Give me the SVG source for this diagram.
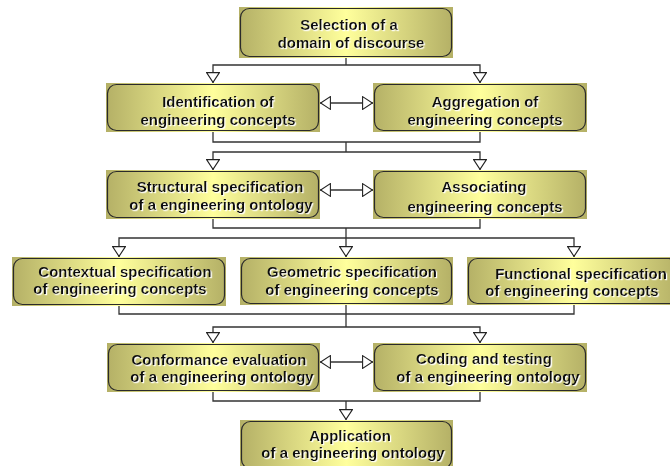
<svg xmlns="http://www.w3.org/2000/svg" width="670" height="466" viewBox="0 0 670 466">
  <defs>
    <linearGradient id="olive" x1="0" y1="0" x2="1" y2="0">
      <stop offset="0" stop-color="#b4b066"/>
      <stop offset="0.5" stop-color="#ffff9c"/>
      <stop offset="1" stop-color="#b4b066"/>
    </linearGradient>
    <filter id="halo" x="-5%" y="-20%" width="110%" height="150%">
      <feDropShadow dx="1.2" dy="1.2" stdDeviation="0.2" flood-color="#ffffff" flood-opacity="1"/>
    </filter>
    <marker id="open" viewBox="0 0 11 14" refX="11" refY="7" markerWidth="11" markerHeight="14" markerUnits="userSpaceOnUse" orient="auto-start-reverse">
      <path d="M0.6,0.6 L10.4,7 L0.6,13.4 Z" fill="#ffffff" stroke="#222222" stroke-width="1.1"/>
    </marker>
  </defs>
  <style>
    .plate { fill: url(#olive); }
    .frame { fill: none; stroke: #2a2a2a; stroke-width: 1.2; }
    .label { font-family: "Liberation Sans", Arial, sans-serif; font-weight: bold; font-size: 15px; fill: #111111; text-anchor: middle; filter: url(#halo); }
    .link { fill: none; stroke: #333333; stroke-width: 1.3; }
    .arrow { marker-end: url(#open); }
    .both { marker-start: url(#open); marker-end: url(#open); }
  </style>
  <rect width="670" height="466" fill="#ffffff"/>

  <!-- connectors -->
  <g id="connectors">
    <path class="link" d="M346,58 V65"/>
    <path class="link both" d="M213,83 V65 H480 V83"/>
    <path class="link both" d="M320,103 H373"/>

    <path class="link" d="M213,132 V142 H480 V132"/>
    <path class="link" d="M346,142 V152"/>
    <path class="link both" d="M213,170 V152 H480 V170"/>
    <path class="link both" d="M320,190 H373"/>

    <path class="link" d="M213,219 V228 H480 V219"/>
    <path class="link arrow" d="M346,228 V257"/>
    <path class="link both" d="M119,257 V238 H574 V257"/>

    <path class="link" d="M119,306 V314 H574 V305"/>
    <path class="link" d="M346,305 V327"/>
    <path class="link both" d="M213,343 V327 H480 V343"/>
    <path class="link both" d="M320,362 H373"/>

    <path class="link" d="M213,392 V401 H480 V392"/>
    <path class="link arrow" d="M346,401 V420"/>
  </g>

  <g id="selection">
    <rect class="plate" x="239" y="7" width="214" height="51"/>
    <rect class="frame" x="240.5" y="8.5" width="211" height="48" rx="9"/>
    <text class="label" x="349" y="30">Selection of a</text>
    <text class="label" x="351" y="48">domain of discourse</text>
  </g>

  <g id="identification">
    <rect class="plate" x="106" y="83" width="214" height="49"/>
    <rect class="frame" x="107.5" y="84.5" width="211" height="46" rx="9"/>
    <text class="label" x="218" y="107">Identification of</text>
    <text class="label" x="218" y="125">engineering concepts</text>
  </g>

  <g id="aggregation">
    <rect class="plate" x="373" y="83" width="214" height="49"/>
    <rect class="frame" x="374.5" y="84.5" width="211" height="46" rx="9"/>
    <text class="label" x="485" y="107">Aggregation of</text>
    <text class="label" x="485" y="125">engineering concepts</text>
  </g>

  <g id="structural">
    <rect class="plate" x="106" y="170" width="214" height="49"/>
    <rect class="frame" x="107.5" y="171.5" width="211" height="46" rx="9"/>
    <text class="label" x="220" y="192">Structural specification</text>
    <text class="label" x="221" y="210">of a engineering ontology</text>
  </g>

  <g id="associating">
    <rect class="plate" x="373" y="170" width="214" height="49"/>
    <rect class="frame" x="374.5" y="171.5" width="211" height="46" rx="9"/>
    <text class="label" x="484" y="192">Associating</text>
    <text class="label" x="485" y="212">engineering concepts</text>
  </g>

  <g id="contextual">
    <rect class="plate" x="12" y="257" width="214" height="49"/>
    <rect class="frame" x="13.5" y="258.5" width="211" height="46" rx="9"/>
    <text class="label" x="125" y="277">Contextual specification</text>
    <text class="label" x="120" y="294">of engineering concepts</text>
  </g>

  <g id="geometric">
    <rect class="plate" x="240" y="257" width="213" height="48"/>
    <rect class="frame" x="241.5" y="258.5" width="210" height="45" rx="9"/>
    <text class="label" x="352" y="277">Geometric specification</text>
    <text class="label" x="352" y="295">of engineering concepts</text>
  </g>

  <g id="functional">
    <rect class="plate" x="467" y="257" width="212" height="48"/>
    <rect class="frame" x="468.5" y="258.5" width="209" height="45" rx="9"/>
    <text class="label" x="581" y="279">Functional specification</text>
    <text class="label" x="572" y="296">of engineering concepts</text>
  </g>

  <g id="conformance">
    <rect class="plate" x="107" y="343" width="213" height="49"/>
    <rect class="frame" x="108.5" y="344.5" width="210" height="46" rx="9"/>
    <text class="label" x="219" y="365">Conformance evaluation</text>
    <text class="label" x="222" y="382">of a engineering ontology</text>
  </g>

  <g id="coding">
    <rect class="plate" x="373" y="343" width="214" height="49"/>
    <rect class="frame" x="374.5" y="344.5" width="211" height="46" rx="9"/>
    <text class="label" x="484" y="364">Coding and testing</text>
    <text class="label" x="488" y="382">of a engineering ontology</text>
  </g>

  <g id="application">
    <rect class="plate" x="240" y="420" width="213" height="50"/>
    <rect class="frame" x="241.5" y="421.5" width="210" height="47" rx="9"/>
    <text class="label" x="350" y="441">Application</text>
    <text class="label" x="353" y="458">of a engineering ontology</text>
  </g>
</svg>
